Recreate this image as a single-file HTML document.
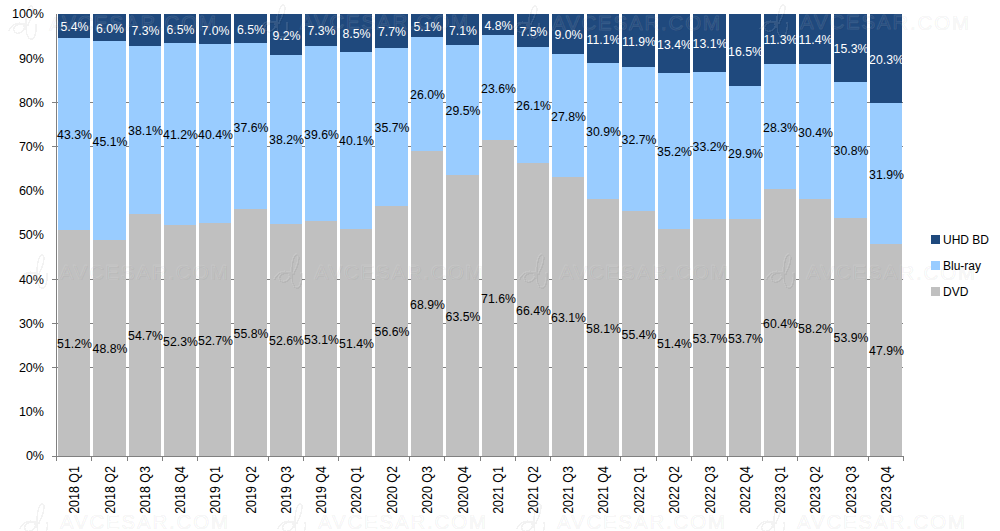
<!DOCTYPE html><html><head><meta charset="utf-8"><style>html,body{margin:0;padding:0;background:#fff;width:1000px;height:531px;overflow:hidden}svg{display:block}</style></head><body>
<svg width="1000" height="531" viewBox="0 0 1000 531" shape-rendering="crispEdges">
<rect x="52" y="367" width="851" height="1" fill="#808080"/>
<rect x="52" y="323" width="851" height="1" fill="#808080"/>
<rect x="52" y="279" width="851" height="1" fill="#808080"/>
<rect x="52" y="146" width="851" height="1" fill="#808080"/>
<rect x="52" y="102" width="851" height="1" fill="#808080"/>
<rect x="58" y="230" width="32" height="226" fill="#c0c0c0"/>
<rect x="58" y="38" width="32" height="192" fill="#99ccff"/>
<rect x="58" y="14" width="32" height="24" fill="#1f497d"/>
<rect x="93" y="240" width="33" height="216" fill="#c0c0c0"/>
<rect x="93" y="41" width="33" height="199" fill="#99ccff"/>
<rect x="93" y="14" width="33" height="27" fill="#1f497d"/>
<rect x="129" y="214" width="32" height="242" fill="#c0c0c0"/>
<rect x="129" y="46" width="32" height="168" fill="#99ccff"/>
<rect x="129" y="14" width="32" height="32" fill="#1f497d"/>
<rect x="164" y="225" width="32" height="231" fill="#c0c0c0"/>
<rect x="164" y="43" width="32" height="182" fill="#99ccff"/>
<rect x="164" y="14" width="32" height="29" fill="#1f497d"/>
<rect x="199" y="223" width="32" height="233" fill="#c0c0c0"/>
<rect x="199" y="44" width="32" height="179" fill="#99ccff"/>
<rect x="199" y="14" width="32" height="30" fill="#1f497d"/>
<rect x="234" y="209" width="33" height="247" fill="#c0c0c0"/>
<rect x="234" y="43" width="33" height="166" fill="#99ccff"/>
<rect x="234" y="14" width="33" height="29" fill="#1f497d"/>
<rect x="270" y="224" width="32" height="232" fill="#c0c0c0"/>
<rect x="270" y="55" width="32" height="169" fill="#99ccff"/>
<rect x="270" y="14" width="32" height="41" fill="#1f497d"/>
<rect x="305" y="221" width="32" height="235" fill="#c0c0c0"/>
<rect x="305" y="46" width="32" height="175" fill="#99ccff"/>
<rect x="305" y="14" width="32" height="32" fill="#1f497d"/>
<rect x="340" y="229" width="32" height="227" fill="#c0c0c0"/>
<rect x="340" y="52" width="32" height="177" fill="#99ccff"/>
<rect x="340" y="14" width="32" height="38" fill="#1f497d"/>
<rect x="375" y="206" width="33" height="250" fill="#c0c0c0"/>
<rect x="375" y="48" width="33" height="158" fill="#99ccff"/>
<rect x="375" y="14" width="33" height="34" fill="#1f497d"/>
<rect x="411" y="151" width="32" height="305" fill="#c0c0c0"/>
<rect x="411" y="37" width="32" height="114" fill="#99ccff"/>
<rect x="411" y="14" width="32" height="23" fill="#1f497d"/>
<rect x="446" y="175" width="33" height="281" fill="#c0c0c0"/>
<rect x="446" y="45" width="33" height="130" fill="#99ccff"/>
<rect x="446" y="14" width="33" height="31" fill="#1f497d"/>
<rect x="482" y="140" width="32" height="316" fill="#c0c0c0"/>
<rect x="482" y="35" width="32" height="105" fill="#99ccff"/>
<rect x="482" y="14" width="32" height="21" fill="#1f497d"/>
<rect x="517" y="163" width="32" height="293" fill="#c0c0c0"/>
<rect x="517" y="47" width="32" height="116" fill="#99ccff"/>
<rect x="517" y="14" width="32" height="33" fill="#1f497d"/>
<rect x="552" y="177" width="32" height="279" fill="#c0c0c0"/>
<rect x="552" y="54" width="32" height="123" fill="#99ccff"/>
<rect x="552" y="14" width="32" height="40" fill="#1f497d"/>
<rect x="587" y="199" width="32" height="257" fill="#c0c0c0"/>
<rect x="587" y="63" width="32" height="136" fill="#99ccff"/>
<rect x="587" y="14" width="32" height="49" fill="#1f497d"/>
<rect x="622" y="211" width="33" height="245" fill="#c0c0c0"/>
<rect x="622" y="67" width="33" height="144" fill="#99ccff"/>
<rect x="622" y="14" width="33" height="53" fill="#1f497d"/>
<rect x="658" y="229" width="32" height="227" fill="#c0c0c0"/>
<rect x="658" y="73" width="32" height="156" fill="#99ccff"/>
<rect x="658" y="14" width="32" height="59" fill="#1f497d"/>
<rect x="693" y="219" width="33" height="237" fill="#c0c0c0"/>
<rect x="693" y="72" width="33" height="147" fill="#99ccff"/>
<rect x="693" y="14" width="33" height="58" fill="#1f497d"/>
<rect x="729" y="219" width="32" height="237" fill="#c0c0c0"/>
<rect x="729" y="86" width="32" height="133" fill="#99ccff"/>
<rect x="729" y="14" width="32" height="72" fill="#1f497d"/>
<rect x="764" y="189" width="32" height="267" fill="#c0c0c0"/>
<rect x="764" y="64" width="32" height="125" fill="#99ccff"/>
<rect x="764" y="14" width="32" height="50" fill="#1f497d"/>
<rect x="799" y="199" width="32" height="257" fill="#c0c0c0"/>
<rect x="799" y="64" width="32" height="135" fill="#99ccff"/>
<rect x="799" y="14" width="32" height="50" fill="#1f497d"/>
<rect x="834" y="218" width="33" height="238" fill="#c0c0c0"/>
<rect x="834" y="82" width="33" height="136" fill="#99ccff"/>
<rect x="834" y="14" width="33" height="68" fill="#1f497d"/>
<rect x="870" y="244" width="32" height="212" fill="#c0c0c0"/>
<rect x="870" y="103" width="32" height="141" fill="#99ccff"/>
<rect x="870" y="14" width="32" height="89" fill="#1f497d"/>
<rect x="56" y="14" width="1" height="443" fill="#808080"/>
<rect x="52" y="456" width="851" height="1" fill="#808080"/>
<rect x="56" y="456" width="1" height="5" fill="#808080"/>
<rect x="91" y="456" width="1" height="5" fill="#808080"/>
<rect x="127" y="456" width="1" height="5" fill="#808080"/>
<rect x="162" y="456" width="1" height="5" fill="#808080"/>
<rect x="197" y="456" width="1" height="5" fill="#808080"/>
<rect x="268" y="456" width="1" height="5" fill="#808080"/>
<rect x="303" y="456" width="1" height="5" fill="#808080"/>
<rect x="338" y="456" width="1" height="5" fill="#808080"/>
<rect x="409" y="456" width="1" height="5" fill="#808080"/>
<rect x="444" y="456" width="1" height="5" fill="#808080"/>
<rect x="480" y="456" width="1" height="5" fill="#808080"/>
<rect x="515" y="456" width="1" height="5" fill="#808080"/>
<rect x="550" y="456" width="1" height="5" fill="#808080"/>
<rect x="620" y="456" width="1" height="5" fill="#808080"/>
<rect x="656" y="456" width="1" height="5" fill="#808080"/>
<rect x="691" y="456" width="1" height="5" fill="#808080"/>
<rect x="727" y="456" width="1" height="5" fill="#808080"/>
<rect x="762" y="456" width="1" height="5" fill="#808080"/>
<rect x="797" y="456" width="1" height="5" fill="#808080"/>
<rect x="868" y="456" width="1" height="5" fill="#808080"/>
<rect x="903" y="456" width="1" height="5" fill="#808080"/>
<text transform="translate(44,460.3) scale(0.93,1)" text-anchor="end" font-family="Liberation Sans" font-size="13.5" fill="#000">0%</text>
<text transform="translate(44,416.1) scale(0.93,1)" text-anchor="end" font-family="Liberation Sans" font-size="13.5" fill="#000">10%</text>
<text transform="translate(44,371.9) scale(0.93,1)" text-anchor="end" font-family="Liberation Sans" font-size="13.5" fill="#000">20%</text>
<text transform="translate(44,327.7) scale(0.93,1)" text-anchor="end" font-family="Liberation Sans" font-size="13.5" fill="#000">30%</text>
<text transform="translate(44,283.5) scale(0.93,1)" text-anchor="end" font-family="Liberation Sans" font-size="13.5" fill="#000">40%</text>
<text transform="translate(44,239.3) scale(0.93,1)" text-anchor="end" font-family="Liberation Sans" font-size="13.5" fill="#000">50%</text>
<text transform="translate(44,195.1) scale(0.93,1)" text-anchor="end" font-family="Liberation Sans" font-size="13.5" fill="#000">60%</text>
<text transform="translate(44,150.9) scale(0.93,1)" text-anchor="end" font-family="Liberation Sans" font-size="13.5" fill="#000">70%</text>
<text transform="translate(44,106.7) scale(0.93,1)" text-anchor="end" font-family="Liberation Sans" font-size="13.5" fill="#000">80%</text>
<text transform="translate(44,62.5) scale(0.93,1)" text-anchor="end" font-family="Liberation Sans" font-size="13.5" fill="#000">90%</text>
<text transform="translate(44,18.3) scale(0.93,1)" text-anchor="end" font-family="Liberation Sans" font-size="13.5" fill="#000">100%</text>
<text transform="translate(79.0,466) rotate(-90) scale(0.89,1)" text-anchor="end" font-family="Liberation Sans" font-size="14" fill="#000">2018 Q1</text>
<text transform="translate(114.5,466) rotate(-90) scale(0.89,1)" text-anchor="end" font-family="Liberation Sans" font-size="14" fill="#000">2018 Q2</text>
<text transform="translate(150.0,466) rotate(-90) scale(0.89,1)" text-anchor="end" font-family="Liberation Sans" font-size="14" fill="#000">2018 Q3</text>
<text transform="translate(185.0,466) rotate(-90) scale(0.89,1)" text-anchor="end" font-family="Liberation Sans" font-size="14" fill="#000">2018 Q4</text>
<text transform="translate(220.0,466) rotate(-90) scale(0.89,1)" text-anchor="end" font-family="Liberation Sans" font-size="14" fill="#000">2019 Q1</text>
<text transform="translate(255.5,466) rotate(-90) scale(0.89,1)" text-anchor="end" font-family="Liberation Sans" font-size="14" fill="#000">2019 Q2</text>
<text transform="translate(291.0,466) rotate(-90) scale(0.89,1)" text-anchor="end" font-family="Liberation Sans" font-size="14" fill="#000">2019 Q3</text>
<text transform="translate(326.0,466) rotate(-90) scale(0.89,1)" text-anchor="end" font-family="Liberation Sans" font-size="14" fill="#000">2019 Q4</text>
<text transform="translate(361.0,466) rotate(-90) scale(0.89,1)" text-anchor="end" font-family="Liberation Sans" font-size="14" fill="#000">2020 Q1</text>
<text transform="translate(396.5,466) rotate(-90) scale(0.89,1)" text-anchor="end" font-family="Liberation Sans" font-size="14" fill="#000">2020 Q2</text>
<text transform="translate(432.0,466) rotate(-90) scale(0.89,1)" text-anchor="end" font-family="Liberation Sans" font-size="14" fill="#000">2020 Q3</text>
<text transform="translate(467.5,466) rotate(-90) scale(0.89,1)" text-anchor="end" font-family="Liberation Sans" font-size="14" fill="#000">2020 Q4</text>
<text transform="translate(503.0,466) rotate(-90) scale(0.89,1)" text-anchor="end" font-family="Liberation Sans" font-size="14" fill="#000">2021 Q1</text>
<text transform="translate(538.0,466) rotate(-90) scale(0.89,1)" text-anchor="end" font-family="Liberation Sans" font-size="14" fill="#000">2021 Q2</text>
<text transform="translate(573.0,466) rotate(-90) scale(0.89,1)" text-anchor="end" font-family="Liberation Sans" font-size="14" fill="#000">2021 Q3</text>
<text transform="translate(608.0,466) rotate(-90) scale(0.89,1)" text-anchor="end" font-family="Liberation Sans" font-size="14" fill="#000">2021 Q4</text>
<text transform="translate(643.5,466) rotate(-90) scale(0.89,1)" text-anchor="end" font-family="Liberation Sans" font-size="14" fill="#000">2022 Q1</text>
<text transform="translate(679.0,466) rotate(-90) scale(0.89,1)" text-anchor="end" font-family="Liberation Sans" font-size="14" fill="#000">2022 Q2</text>
<text transform="translate(714.5,466) rotate(-90) scale(0.89,1)" text-anchor="end" font-family="Liberation Sans" font-size="14" fill="#000">2022 Q3</text>
<text transform="translate(750.0,466) rotate(-90) scale(0.89,1)" text-anchor="end" font-family="Liberation Sans" font-size="14" fill="#000">2022 Q4</text>
<text transform="translate(785.0,466) rotate(-90) scale(0.89,1)" text-anchor="end" font-family="Liberation Sans" font-size="14" fill="#000">2023 Q1</text>
<text transform="translate(820.0,466) rotate(-90) scale(0.89,1)" text-anchor="end" font-family="Liberation Sans" font-size="14" fill="#000">2023 Q2</text>
<text transform="translate(855.5,466) rotate(-90) scale(0.89,1)" text-anchor="end" font-family="Liberation Sans" font-size="14" fill="#000">2023 Q3</text>
<text transform="translate(891.0,466) rotate(-90) scale(0.89,1)" text-anchor="end" font-family="Liberation Sans" font-size="14" fill="#000">2023 Q4</text>
<text transform="translate(74.50,348.15) scale(0.91,1)" text-anchor="middle" font-family="Liberation Sans" font-size="13.5" fill="#000">51.2%</text>
<text transform="translate(74.50,139.30) scale(0.91,1)" text-anchor="middle" font-family="Liberation Sans" font-size="13.5" fill="#000">43.3%</text>
<text transform="translate(74.50,31.46) scale(0.91,1)" text-anchor="middle" font-family="Liberation Sans" font-size="13.5" fill="#fff">5.4%</text>
<text transform="translate(110.00,353.45) scale(0.91,1)" text-anchor="middle" font-family="Liberation Sans" font-size="13.5" fill="#000">48.8%</text>
<text transform="translate(110.00,145.93) scale(0.91,1)" text-anchor="middle" font-family="Liberation Sans" font-size="13.5" fill="#000">45.1%</text>
<text transform="translate(110.00,32.78) scale(0.91,1)" text-anchor="middle" font-family="Liberation Sans" font-size="13.5" fill="#fff">6.0%</text>
<text transform="translate(145.50,340.41) scale(0.91,1)" text-anchor="middle" font-family="Liberation Sans" font-size="13.5" fill="#000">54.7%</text>
<text transform="translate(145.50,135.32) scale(0.91,1)" text-anchor="middle" font-family="Liberation Sans" font-size="13.5" fill="#000">38.1%</text>
<text transform="translate(145.50,35.21) scale(0.91,1)" text-anchor="middle" font-family="Liberation Sans" font-size="13.5" fill="#fff">7.3%</text>
<text transform="translate(180.50,345.72) scale(0.91,1)" text-anchor="middle" font-family="Liberation Sans" font-size="13.5" fill="#000">52.3%</text>
<text transform="translate(180.50,139.08) scale(0.91,1)" text-anchor="middle" font-family="Liberation Sans" font-size="13.5" fill="#000">41.2%</text>
<text transform="translate(180.50,33.66) scale(0.91,1)" text-anchor="middle" font-family="Liberation Sans" font-size="13.5" fill="#fff">6.5%</text>
<text transform="translate(215.50,344.83) scale(0.91,1)" text-anchor="middle" font-family="Liberation Sans" font-size="13.5" fill="#000">52.7%</text>
<text transform="translate(215.50,139.08) scale(0.91,1)" text-anchor="middle" font-family="Liberation Sans" font-size="13.5" fill="#000">40.4%</text>
<text transform="translate(215.50,34.55) scale(0.91,1)" text-anchor="middle" font-family="Liberation Sans" font-size="13.5" fill="#fff">7.0%</text>
<text transform="translate(251.00,337.98) scale(0.91,1)" text-anchor="middle" font-family="Liberation Sans" font-size="13.5" fill="#000">55.8%</text>
<text transform="translate(251.00,131.57) scale(0.91,1)" text-anchor="middle" font-family="Liberation Sans" font-size="13.5" fill="#000">37.6%</text>
<text transform="translate(251.00,33.89) scale(0.91,1)" text-anchor="middle" font-family="Liberation Sans" font-size="13.5" fill="#fff">6.5%</text>
<text transform="translate(286.50,345.05) scale(0.91,1)" text-anchor="middle" font-family="Liberation Sans" font-size="13.5" fill="#000">52.6%</text>
<text transform="translate(286.50,144.39) scale(0.91,1)" text-anchor="middle" font-family="Liberation Sans" font-size="13.5" fill="#000">38.2%</text>
<text transform="translate(286.50,39.63) scale(0.91,1)" text-anchor="middle" font-family="Liberation Sans" font-size="13.5" fill="#fff">9.2%</text>
<text transform="translate(321.50,343.95) scale(0.91,1)" text-anchor="middle" font-family="Liberation Sans" font-size="13.5" fill="#000">53.1%</text>
<text transform="translate(321.50,139.08) scale(0.91,1)" text-anchor="middle" font-family="Liberation Sans" font-size="13.5" fill="#000">39.6%</text>
<text transform="translate(321.50,35.43) scale(0.91,1)" text-anchor="middle" font-family="Liberation Sans" font-size="13.5" fill="#fff">7.3%</text>
<text transform="translate(356.50,347.71) scale(0.91,1)" text-anchor="middle" font-family="Liberation Sans" font-size="13.5" fill="#000">51.4%</text>
<text transform="translate(356.50,145.49) scale(0.91,1)" text-anchor="middle" font-family="Liberation Sans" font-size="13.5" fill="#000">40.1%</text>
<text transform="translate(356.50,38.08) scale(0.91,1)" text-anchor="middle" font-family="Liberation Sans" font-size="13.5" fill="#fff">8.5%</text>
<text transform="translate(392.00,336.21) scale(0.91,1)" text-anchor="middle" font-family="Liberation Sans" font-size="13.5" fill="#000">56.6%</text>
<text transform="translate(392.00,132.23) scale(0.91,1)" text-anchor="middle" font-family="Liberation Sans" font-size="13.5" fill="#000">35.7%</text>
<text transform="translate(392.00,36.32) scale(0.91,1)" text-anchor="middle" font-family="Liberation Sans" font-size="13.5" fill="#fff">7.7%</text>
<text transform="translate(427.50,309.03) scale(0.91,1)" text-anchor="middle" font-family="Liberation Sans" font-size="13.5" fill="#000">68.9%</text>
<text transform="translate(427.50,99.30) scale(0.91,1)" text-anchor="middle" font-family="Liberation Sans" font-size="13.5" fill="#000">26.0%</text>
<text transform="translate(427.50,30.57) scale(0.91,1)" text-anchor="middle" font-family="Liberation Sans" font-size="13.5" fill="#fff">5.1%</text>
<text transform="translate(463.00,320.96) scale(0.91,1)" text-anchor="middle" font-family="Liberation Sans" font-size="13.5" fill="#000">63.5%</text>
<text transform="translate(463.00,115.43) scale(0.91,1)" text-anchor="middle" font-family="Liberation Sans" font-size="13.5" fill="#000">29.5%</text>
<text transform="translate(463.00,34.77) scale(0.91,1)" text-anchor="middle" font-family="Liberation Sans" font-size="13.5" fill="#fff">7.1%</text>
<text transform="translate(498.50,303.06) scale(0.91,1)" text-anchor="middle" font-family="Liberation Sans" font-size="13.5" fill="#000">71.6%</text>
<text transform="translate(498.50,92.67) scale(0.91,1)" text-anchor="middle" font-family="Liberation Sans" font-size="13.5" fill="#000">23.6%</text>
<text transform="translate(498.50,29.91) scale(0.91,1)" text-anchor="middle" font-family="Liberation Sans" font-size="13.5" fill="#fff">4.8%</text>
<text transform="translate(533.50,314.56) scale(0.91,1)" text-anchor="middle" font-family="Liberation Sans" font-size="13.5" fill="#000">66.4%</text>
<text transform="translate(533.50,110.13) scale(0.91,1)" text-anchor="middle" font-family="Liberation Sans" font-size="13.5" fill="#000">26.1%</text>
<text transform="translate(533.50,35.87) scale(0.91,1)" text-anchor="middle" font-family="Liberation Sans" font-size="13.5" fill="#fff">7.5%</text>
<text transform="translate(568.50,321.85) scale(0.91,1)" text-anchor="middle" font-family="Liberation Sans" font-size="13.5" fill="#000">63.1%</text>
<text transform="translate(568.50,120.96) scale(0.91,1)" text-anchor="middle" font-family="Liberation Sans" font-size="13.5" fill="#000">27.8%</text>
<text transform="translate(568.50,39.41) scale(0.91,1)" text-anchor="middle" font-family="Liberation Sans" font-size="13.5" fill="#fff">9.0%</text>
<text transform="translate(603.50,332.90) scale(0.91,1)" text-anchor="middle" font-family="Liberation Sans" font-size="13.5" fill="#000">58.1%</text>
<text transform="translate(603.50,136.21) scale(0.91,1)" text-anchor="middle" font-family="Liberation Sans" font-size="13.5" fill="#000">30.9%</text>
<text transform="translate(603.50,43.61) scale(0.91,1)" text-anchor="middle" font-family="Liberation Sans" font-size="13.5" fill="#fff">11.1%</text>
<text transform="translate(639.00,338.87) scale(0.91,1)" text-anchor="middle" font-family="Liberation Sans" font-size="13.5" fill="#000">55.4%</text>
<text transform="translate(639.00,144.17) scale(0.91,1)" text-anchor="middle" font-family="Liberation Sans" font-size="13.5" fill="#000">32.7%</text>
<text transform="translate(639.00,45.60) scale(0.91,1)" text-anchor="middle" font-family="Liberation Sans" font-size="13.5" fill="#fff">11.9%</text>
<text transform="translate(674.50,347.71) scale(0.91,1)" text-anchor="middle" font-family="Liberation Sans" font-size="13.5" fill="#000">51.4%</text>
<text transform="translate(674.50,156.32) scale(0.91,1)" text-anchor="middle" font-family="Liberation Sans" font-size="13.5" fill="#000">35.2%</text>
<text transform="translate(674.50,48.91) scale(0.91,1)" text-anchor="middle" font-family="Liberation Sans" font-size="13.5" fill="#fff">13.4%</text>
<text transform="translate(710.00,342.62) scale(0.91,1)" text-anchor="middle" font-family="Liberation Sans" font-size="13.5" fill="#000">53.7%</text>
<text transform="translate(710.00,150.57) scale(0.91,1)" text-anchor="middle" font-family="Liberation Sans" font-size="13.5" fill="#000">33.2%</text>
<text transform="translate(710.00,48.25) scale(0.91,1)" text-anchor="middle" font-family="Liberation Sans" font-size="13.5" fill="#fff">13.1%</text>
<text transform="translate(745.50,342.62) scale(0.91,1)" text-anchor="middle" font-family="Liberation Sans" font-size="13.5" fill="#000">53.7%</text>
<text transform="translate(745.50,157.87) scale(0.91,1)" text-anchor="middle" font-family="Liberation Sans" font-size="13.5" fill="#000">29.9%</text>
<text transform="translate(745.50,55.54) scale(0.91,1)" text-anchor="middle" font-family="Liberation Sans" font-size="13.5" fill="#fff">16.5%</text>
<text transform="translate(780.50,327.82) scale(0.91,1)" text-anchor="middle" font-family="Liberation Sans" font-size="13.5" fill="#000">60.4%</text>
<text transform="translate(780.50,131.79) scale(0.91,1)" text-anchor="middle" font-family="Liberation Sans" font-size="13.5" fill="#000">28.3%</text>
<text transform="translate(780.50,44.27) scale(0.91,1)" text-anchor="middle" font-family="Liberation Sans" font-size="13.5" fill="#fff">11.3%</text>
<text transform="translate(815.50,332.68) scale(0.91,1)" text-anchor="middle" font-family="Liberation Sans" font-size="13.5" fill="#000">58.2%</text>
<text transform="translate(815.50,136.87) scale(0.91,1)" text-anchor="middle" font-family="Liberation Sans" font-size="13.5" fill="#000">30.4%</text>
<text transform="translate(815.50,44.49) scale(0.91,1)" text-anchor="middle" font-family="Liberation Sans" font-size="13.5" fill="#fff">11.4%</text>
<text transform="translate(851.00,342.18) scale(0.91,1)" text-anchor="middle" font-family="Liberation Sans" font-size="13.5" fill="#000">53.9%</text>
<text transform="translate(851.00,154.99) scale(0.91,1)" text-anchor="middle" font-family="Liberation Sans" font-size="13.5" fill="#000">30.8%</text>
<text transform="translate(851.00,53.11) scale(0.91,1)" text-anchor="middle" font-family="Liberation Sans" font-size="13.5" fill="#fff">15.3%</text>
<text transform="translate(886.50,355.44) scale(0.91,1)" text-anchor="middle" font-family="Liberation Sans" font-size="13.5" fill="#000">47.9%</text>
<text transform="translate(886.50,179.08) scale(0.91,1)" text-anchor="middle" font-family="Liberation Sans" font-size="13.5" fill="#000">31.9%</text>
<text transform="translate(886.50,63.94) scale(0.91,1)" text-anchor="middle" font-family="Liberation Sans" font-size="13.5" fill="#fff">20.3%</text>
<g font-family="Liberation Sans" font-size="20.5" letter-spacing="1.8" fill="none">
<g transform="translate(48,15)"><path d="M-40,15 C-37,7 -27,5 -25,10 C-23,16 -33,20 -35,15 C-37,10 -28,6 -21,9 C-15,-3 -15,-11 -18,-10 C-24,-8 -25,20 -19,23 C-14,25 -12,14 -13,8" stroke="rgba(0,0,0,0.05)" stroke-width="1.4" transform="translate(1,1)"/><path d="M-40,15 C-37,7 -27,5 -25,10 C-23,16 -33,20 -35,15 C-37,10 -28,6 -21,9 C-15,-3 -15,-11 -18,-10 C-24,-8 -25,20 -19,23 C-14,25 -12,14 -13,8" stroke="rgba(255,255,255,0.10)" stroke-width="1.4"/><text x="1" y="16" stroke="rgba(0,0,0,0.05)" stroke-width="1.2">AVCESAR.COM</text><text x="0" y="15" stroke="rgba(255,255,255,0.10)" stroke-width="1.2">AVCESAR.COM</text></g>
<g transform="translate(300,14)"><path d="M-40,15 C-37,7 -27,5 -25,10 C-23,16 -33,20 -35,15 C-37,10 -28,6 -21,9 C-15,-3 -15,-11 -18,-10 C-24,-8 -25,20 -19,23 C-14,25 -12,14 -13,8" stroke="rgba(0,0,0,0.05)" stroke-width="1.4" transform="translate(1,1)"/><path d="M-40,15 C-37,7 -27,5 -25,10 C-23,16 -33,20 -35,15 C-37,10 -28,6 -21,9 C-15,-3 -15,-11 -18,-10 C-24,-8 -25,20 -19,23 C-14,25 -12,14 -13,8" stroke="rgba(255,255,255,0.10)" stroke-width="1.4"/><text x="1" y="16" stroke="rgba(0,0,0,0.05)" stroke-width="1.2">AVCESAR.COM</text><text x="0" y="15" stroke="rgba(255,255,255,0.10)" stroke-width="1.2">AVCESAR.COM</text></g>
<g transform="translate(552,15)"><path d="M-40,15 C-37,7 -27,5 -25,10 C-23,16 -33,20 -35,15 C-37,10 -28,6 -21,9 C-15,-3 -15,-11 -18,-10 C-24,-8 -25,20 -19,23 C-14,25 -12,14 -13,8" stroke="rgba(0,0,0,0.05)" stroke-width="1.4" transform="translate(1,1)"/><path d="M-40,15 C-37,7 -27,5 -25,10 C-23,16 -33,20 -35,15 C-37,10 -28,6 -21,9 C-15,-3 -15,-11 -18,-10 C-24,-8 -25,20 -19,23 C-14,25 -12,14 -13,8" stroke="rgba(255,255,255,0.10)" stroke-width="1.4"/><text x="1" y="16" stroke="rgba(0,0,0,0.05)" stroke-width="1.2">AVCESAR.COM</text><text x="0" y="15" stroke="rgba(255,255,255,0.10)" stroke-width="1.2">AVCESAR.COM</text></g>
<g transform="translate(800,14)"><path d="M-40,15 C-37,7 -27,5 -25,10 C-23,16 -33,20 -35,15 C-37,10 -28,6 -21,9 C-15,-3 -15,-11 -18,-10 C-24,-8 -25,20 -19,23 C-14,25 -12,14 -13,8" stroke="rgba(0,0,0,0.05)" stroke-width="1.4" transform="translate(1,1)"/><path d="M-40,15 C-37,7 -27,5 -25,10 C-23,16 -33,20 -35,15 C-37,10 -28,6 -21,9 C-15,-3 -15,-11 -18,-10 C-24,-8 -25,20 -19,23 C-14,25 -12,14 -13,8" stroke="rgba(255,255,255,0.10)" stroke-width="1.4"/><text x="1" y="16" stroke="rgba(0,0,0,0.05)" stroke-width="1.2">AVCESAR.COM</text><text x="0" y="15" stroke="rgba(255,255,255,0.10)" stroke-width="1.2">AVCESAR.COM</text></g>
<g transform="translate(59,264)"><path d="M-40,15 C-37,7 -27,5 -25,10 C-23,16 -33,20 -35,15 C-37,10 -28,6 -21,9 C-15,-3 -15,-11 -18,-10 C-24,-8 -25,20 -19,23 C-14,25 -12,14 -13,8" stroke="rgba(0,0,0,0.05)" stroke-width="1.4" transform="translate(1,1)"/><path d="M-40,15 C-37,7 -27,5 -25,10 C-23,16 -33,20 -35,15 C-37,10 -28,6 -21,9 C-15,-3 -15,-11 -18,-10 C-24,-8 -25,20 -19,23 C-14,25 -12,14 -13,8" stroke="rgba(255,255,255,0.10)" stroke-width="1.4"/><text x="1" y="16" stroke="rgba(0,0,0,0.05)" stroke-width="1.2">AVCESAR.COM</text><text x="0" y="15" stroke="rgba(255,255,255,0.10)" stroke-width="1.2">AVCESAR.COM</text></g>
<g transform="translate(314,264)"><path d="M-40,15 C-37,7 -27,5 -25,10 C-23,16 -33,20 -35,15 C-37,10 -28,6 -21,9 C-15,-3 -15,-11 -18,-10 C-24,-8 -25,20 -19,23 C-14,25 -12,14 -13,8" stroke="rgba(0,0,0,0.05)" stroke-width="1.4" transform="translate(1,1)"/><path d="M-40,15 C-37,7 -27,5 -25,10 C-23,16 -33,20 -35,15 C-37,10 -28,6 -21,9 C-15,-3 -15,-11 -18,-10 C-24,-8 -25,20 -19,23 C-14,25 -12,14 -13,8" stroke="rgba(255,255,255,0.10)" stroke-width="1.4"/><text x="1" y="16" stroke="rgba(0,0,0,0.05)" stroke-width="1.2">AVCESAR.COM</text><text x="0" y="15" stroke="rgba(255,255,255,0.10)" stroke-width="1.2">AVCESAR.COM</text></g>
<g transform="translate(559,264)"><path d="M-40,15 C-37,7 -27,5 -25,10 C-23,16 -33,20 -35,15 C-37,10 -28,6 -21,9 C-15,-3 -15,-11 -18,-10 C-24,-8 -25,20 -19,23 C-14,25 -12,14 -13,8" stroke="rgba(0,0,0,0.05)" stroke-width="1.4" transform="translate(1,1)"/><path d="M-40,15 C-37,7 -27,5 -25,10 C-23,16 -33,20 -35,15 C-37,10 -28,6 -21,9 C-15,-3 -15,-11 -18,-10 C-24,-8 -25,20 -19,23 C-14,25 -12,14 -13,8" stroke="rgba(255,255,255,0.10)" stroke-width="1.4"/><text x="1" y="16" stroke="rgba(0,0,0,0.05)" stroke-width="1.2">AVCESAR.COM</text><text x="0" y="15" stroke="rgba(255,255,255,0.10)" stroke-width="1.2">AVCESAR.COM</text></g>
<g transform="translate(806,264)"><path d="M-40,15 C-37,7 -27,5 -25,10 C-23,16 -33,20 -35,15 C-37,10 -28,6 -21,9 C-15,-3 -15,-11 -18,-10 C-24,-8 -25,20 -19,23 C-14,25 -12,14 -13,8" stroke="rgba(0,0,0,0.05)" stroke-width="1.4" transform="translate(1,1)"/><path d="M-40,15 C-37,7 -27,5 -25,10 C-23,16 -33,20 -35,15 C-37,10 -28,6 -21,9 C-15,-3 -15,-11 -18,-10 C-24,-8 -25,20 -19,23 C-14,25 -12,14 -13,8" stroke="rgba(255,255,255,0.10)" stroke-width="1.4"/><text x="1" y="16" stroke="rgba(0,0,0,0.05)" stroke-width="1.2">AVCESAR.COM</text><text x="0" y="15" stroke="rgba(255,255,255,0.10)" stroke-width="1.2">AVCESAR.COM</text></g>
<g transform="translate(59,513)"><path d="M-40,15 C-37,7 -27,5 -25,10 C-23,16 -33,20 -35,15 C-37,10 -28,6 -21,9 C-15,-3 -15,-11 -18,-10 C-24,-8 -25,20 -19,23 C-14,25 -12,14 -13,8" stroke="rgba(0,0,0,0.05)" stroke-width="1.4" transform="translate(1,1)"/><path d="M-40,15 C-37,7 -27,5 -25,10 C-23,16 -33,20 -35,15 C-37,10 -28,6 -21,9 C-15,-3 -15,-11 -18,-10 C-24,-8 -25,20 -19,23 C-14,25 -12,14 -13,8" stroke="rgba(255,255,255,0.10)" stroke-width="1.4"/><text x="1" y="16" stroke="rgba(0,0,0,0.05)" stroke-width="1.2">AVCESAR.COM</text><text x="0" y="15" stroke="rgba(255,255,255,0.10)" stroke-width="1.2">AVCESAR.COM</text></g>
<g transform="translate(317,513)"><path d="M-40,15 C-37,7 -27,5 -25,10 C-23,16 -33,20 -35,15 C-37,10 -28,6 -21,9 C-15,-3 -15,-11 -18,-10 C-24,-8 -25,20 -19,23 C-14,25 -12,14 -13,8" stroke="rgba(0,0,0,0.05)" stroke-width="1.4" transform="translate(1,1)"/><path d="M-40,15 C-37,7 -27,5 -25,10 C-23,16 -33,20 -35,15 C-37,10 -28,6 -21,9 C-15,-3 -15,-11 -18,-10 C-24,-8 -25,20 -19,23 C-14,25 -12,14 -13,8" stroke="rgba(255,255,255,0.10)" stroke-width="1.4"/><text x="1" y="16" stroke="rgba(0,0,0,0.05)" stroke-width="1.2">AVCESAR.COM</text><text x="0" y="15" stroke="rgba(255,255,255,0.10)" stroke-width="1.2">AVCESAR.COM</text></g>
<g transform="translate(556,513)"><path d="M-40,15 C-37,7 -27,5 -25,10 C-23,16 -33,20 -35,15 C-37,10 -28,6 -21,9 C-15,-3 -15,-11 -18,-10 C-24,-8 -25,20 -19,23 C-14,25 -12,14 -13,8" stroke="rgba(0,0,0,0.05)" stroke-width="1.4" transform="translate(1,1)"/><path d="M-40,15 C-37,7 -27,5 -25,10 C-23,16 -33,20 -35,15 C-37,10 -28,6 -21,9 C-15,-3 -15,-11 -18,-10 C-24,-8 -25,20 -19,23 C-14,25 -12,14 -13,8" stroke="rgba(255,255,255,0.10)" stroke-width="1.4"/><text x="1" y="16" stroke="rgba(0,0,0,0.05)" stroke-width="1.2">AVCESAR.COM</text><text x="0" y="15" stroke="rgba(255,255,255,0.10)" stroke-width="1.2">AVCESAR.COM</text></g>
<g transform="translate(796,513)"><path d="M-40,15 C-37,7 -27,5 -25,10 C-23,16 -33,20 -35,15 C-37,10 -28,6 -21,9 C-15,-3 -15,-11 -18,-10 C-24,-8 -25,20 -19,23 C-14,25 -12,14 -13,8" stroke="rgba(0,0,0,0.05)" stroke-width="1.4" transform="translate(1,1)"/><path d="M-40,15 C-37,7 -27,5 -25,10 C-23,16 -33,20 -35,15 C-37,10 -28,6 -21,9 C-15,-3 -15,-11 -18,-10 C-24,-8 -25,20 -19,23 C-14,25 -12,14 -13,8" stroke="rgba(255,255,255,0.10)" stroke-width="1.4"/><text x="1" y="16" stroke="rgba(0,0,0,0.05)" stroke-width="1.2">AVCESAR.COM</text><text x="0" y="15" stroke="rgba(255,255,255,0.10)" stroke-width="1.2">AVCESAR.COM</text></g>
</g>
<rect x="931" y="235" width="9" height="9" fill="#1f497d"/>
<text x="943" y="244" font-family="Liberation Sans" font-size="12" fill="#000">UHD BD</text>
<rect x="931" y="261" width="9" height="9" fill="#99ccff"/>
<text x="943" y="270" font-family="Liberation Sans" font-size="12" fill="#000">Blu-ray</text>
<rect x="931" y="287" width="9" height="9" fill="#c0c0c0"/>
<text x="943" y="296" font-family="Liberation Sans" font-size="12" fill="#000">DVD</text>
</svg></body></html>
